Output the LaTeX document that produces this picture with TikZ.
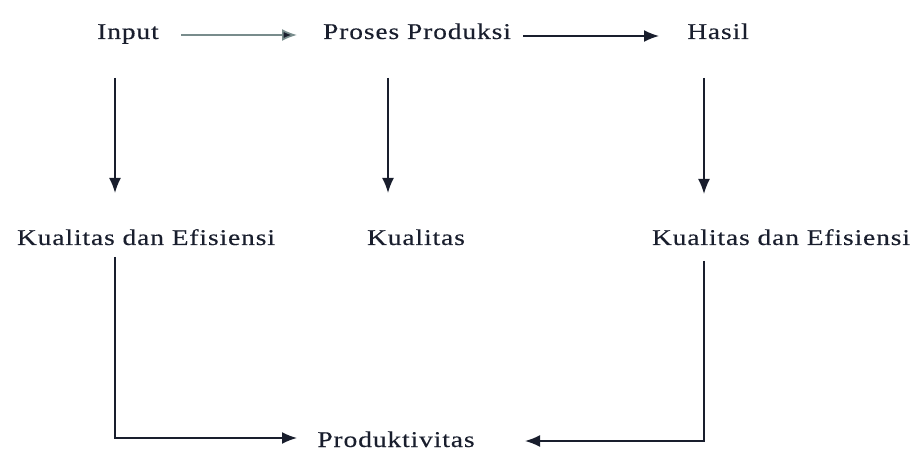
\documentclass[tikz,border=0pt]{standalone}
\usepackage{fontspec}
\setmainfont{Liberation Serif}[FakeStretch=1.22,LetterSpace=4,FakeBold=0.3]
\usetikzlibrary{arrows.meta}
\definecolor{ink}{RGB}{25,30,45}
\definecolor{lightink}{RGB}{120,140,140}
\tikzset{
  lbl/.style={inner sep=0pt, anchor=base, font=\fontsize{22.5}{26}\selectfont, text=ink},
  arr/.style={draw=ink, line width=1.7pt, -{Latex[length=15pt,width=12pt]}},
}
\begin{document}
\begin{tikzpicture}[x=1pt,y=-1pt]
\useasboundingbox (0,0) rectangle (916,454);
% text nodes
\node[lbl] (input) at (128,39) {Input};
\node[lbl] (proses) at (417,39) {Proses Produksi};
\node[lbl] (hasil) at (718,39) {Hasil};
\node[lbl] (ke1) at (146,245) {Kualitas dan Efisiensi};
\node[lbl] (kual) at (416,245) {Kualitas};
\node[lbl] (ke2) at (781,245) {Kualitas dan Efisiensi};
\node[lbl] (prod) at (396,447) {Produktivitas};
% connector end points
\coordinate (a1s) at (181,35); \coordinate (a1e) at (297,35);
\coordinate (a2s) at (523,36); \coordinate (a2e) at (659,36);
\coordinate (d1s) at (115,78); \coordinate (d1e) at (115,193);
\coordinate (d2s) at (388,78); \coordinate (d2e) at (388,193);
\coordinate (d3s) at (704,78); \coordinate (d3e) at (704,194);
\coordinate (l1s) at (115,257); \coordinate (l1c) at (115,438); \coordinate (l1e) at (297,438);
\coordinate (r1s) at (704,261); \coordinate (r1c) at (704,441); \coordinate (r1e) at (525,441);
% connectors
\draw[arr, draw=lightink, -{Latex[length=15pt,width=12pt,fill=ink]}] (a1s) -- (a1e);
\draw[arr] (a2s) -- (a2e);
\draw[arr] (d1s) -- (d1e);
\draw[arr] (d2s) -- (d2e);
\draw[arr] (d3s) -- (d3e);
\draw[arr] (l1s) -- (l1c) -- (l1e);
\draw[arr] (r1s) -- (r1c) -- (r1e);
\end{tikzpicture}
\end{document}
